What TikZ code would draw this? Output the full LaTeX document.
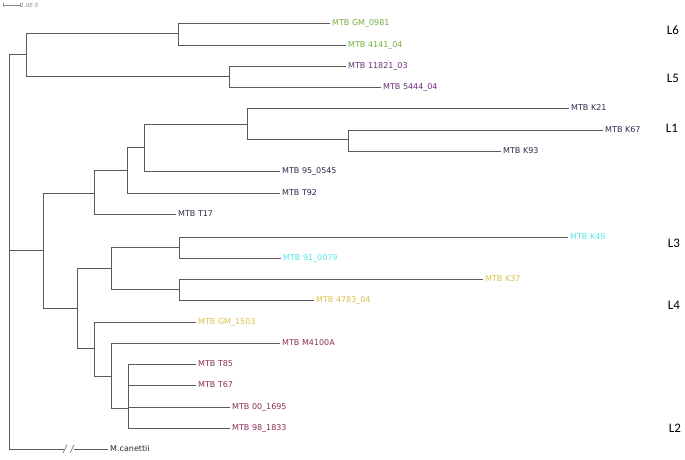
\documentclass[tikz,border=0pt]{standalone}
\usepackage{fontspec}
\setmainfont{DejaVu Sans}
\newfontfamily\lfont{Carlito}
\definecolor{edgec}{HTML}{5A5A5A}
\definecolor{cLsix}{HTML}{72B040}
\definecolor{cLfive}{HTML}{6A2C78}
\definecolor{cLone}{HTML}{2A2A4E}
\definecolor{cLthree}{HTML}{50E6EA}
\definecolor{cLfour}{HTML}{D8C048}
\definecolor{cLtwo}{HTML}{8A2C58}
\begin{document}
\begin{tikzpicture}[x=1pt,y=-1pt,
  edge/.style={draw=edgec,line width=0.85pt},
  leaf/.style={anchor=west,inner sep=2pt,font=\fontsize{8}{9.5}\selectfont},
  lin/.style={font=\lfont\fontsize{13}{15}\selectfont,inner sep=0pt}]
\useasboundingbox (0,0) rectangle (685,459);
% internal nodes
\coordinate (root) at (9,250);
\coordinate (n56) at (26,54);
\coordinate (n6) at (178,33);
\coordinate (n5) at (229,76);
\coordinate (nmain) at (43,250);
\coordinate (nL1) at (94,193);
\coordinate (na) at (127,170);
\coordinate (nb) at (144,147);
\coordinate (nc) at (247,124);
\coordinate (nd) at (348,139);
\coordinate (nlow) at (77,308);
\coordinate (n34) at (111,268);
\coordinate (n3) at (179,247);
\coordinate (n4) at (179,289);
\coordinate (nL2) at (94,348);
\coordinate (ne) at (111,376);
\coordinate (nf) at (128,408);
% leaves
\node[leaf,text=cLsix] (GM0981) at (330,23) {MTB GM\_0981};
\node[leaf,text=cLsix] (T4141) at (346,45) {MTB 4141\_04};
\node[leaf,text=cLfive] (T11821) at (346,66) {MTB 11821\_03};
\node[leaf,text=cLfive] (T5444) at (381,87) {MTB 5444\_04};
\node[leaf,text=cLone] (K21) at (569,108) {MTB K21};
\node[leaf,text=cLone] (K67) at (603,130) {MTB K67};
\node[leaf,text=cLone] (K93) at (501,151) {MTB K93};
\node[leaf,text=cLone] (T950545) at (280,171) {MTB 95\_0545};
\node[leaf,text=cLone] (T92) at (280,193) {MTB T92};
\node[leaf,text=cLone] (T17) at (176,214) {MTB T17};
\node[leaf,text=cLthree] (K49) at (568,237) {MTB K49};
\node[leaf,text=cLthree] (T910079) at (281,258) {MTB 91\_0079};
\node[leaf,text=cLfour] (K37) at (483,279) {MTB K37};
\node[leaf,text=cLfour] (T4783) at (314,300) {MTB 4783\_04};
\node[leaf,text=cLfour] (GM1503) at (196,322) {MTB GM\_1503};
\node[leaf,text=cLtwo] (M4100A) at (280,343) {MTB M4100A};
\node[leaf,text=cLtwo] (T85) at (196,364) {MTB T85};
\node[leaf,text=cLtwo] (T67) at (196,385) {MTB T67};
\node[leaf,text=cLtwo] (T001695) at (230,407) {MTB 00\_1695};
\node[leaf,text=cLtwo] (T981833) at (230,428) {MTB 98\_1833};
\node[leaf,text=black!85] (canet) at (108,449) {M.canettii};
% edges
\draw[edge] (root) |- (n56);
\draw[edge] (root) |- (nmain);
\coordinate (brk1) at (64,449);
\coordinate (brk2) at (74,449);
\draw[edge] (root) |- (brk1);
\draw[edge] (brk2) -- (canet.west);
\draw[edge,line width=0.6pt] (63,453) -- (67,445) (70,453) -- (74,445);
\draw[edge] (n56) |- (n6);
\draw[edge] (n56) |- (n5);
\draw[edge] (n6) |- (GM0981.west);
\draw[edge] (n6) |- (T4141.west);
\draw[edge] (n5) |- (T11821.west);
\draw[edge] (n5) |- (T5444.west);
\draw[edge] (nmain) |- (nL1);
\draw[edge] (nmain) |- (nlow);
\draw[edge] (nL1) |- (na);
\draw[edge] (nL1) |- (T17.west);
\draw[edge] (na) |- (nb);
\draw[edge] (na) |- (T92.west);
\draw[edge] (nb) |- (nc);
\draw[edge] (nb) |- (T950545.west);
\draw[edge] (nc) |- (K21.west);
\draw[edge] (nc) |- (nd);
\draw[edge] (nd) |- (K67.west);
\draw[edge] (nd) |- (K93.west);
\draw[edge] (nlow) |- (n34);
\draw[edge] (nlow) |- (nL2);
\draw[edge] (n34) |- (n3);
\draw[edge] (n34) |- (n4);
\draw[edge] (n3) |- (K49.west);
\draw[edge] (n3) |- (T910079.west);
\draw[edge] (n4) |- (K37.west);
\draw[edge] (n4) |- (T4783.west);
\draw[edge] (nL2) |- (GM1503.west);
\draw[edge] (nL2) |- (ne);
\draw[edge] (ne) |- (M4100A.west);
\draw[edge] (ne) |- (nf);
\draw[edge] (nf) |- (T85.west);
\draw[edge] (nf) |- (T67.west);
\draw[edge] (nf) |- (T001695.west);
\draw[edge] (nf) |- (T981833.west);
% lineage labels
\node[lin] (L6) at (673,30) {L6};
\node[lin] (L5) at (673,78) {L5};
\node[lin] (L1) at (672,128) {L1};
\node[lin] (L3) at (674,243) {L3};
\node[lin] (L4) at (674,305) {L4};
\node[lin] (L2) at (675,428) {L2};
% scale bar
\coordinate (sb1) at (3,5);
\coordinate (sb2) at (20,5);
\draw[draw=black!45,line width=0.5pt] (sb1) -- (sb2) (3,3) -- (3,7) (20,3) -- (20,7);
\node[anchor=west,inner sep=0.5pt,text=black!45,font=\fontsize{5.5}{6.5}\selectfont\itshape] (sbl) at (sb2) {1.0E-5};
\end{tikzpicture}
\end{document}
